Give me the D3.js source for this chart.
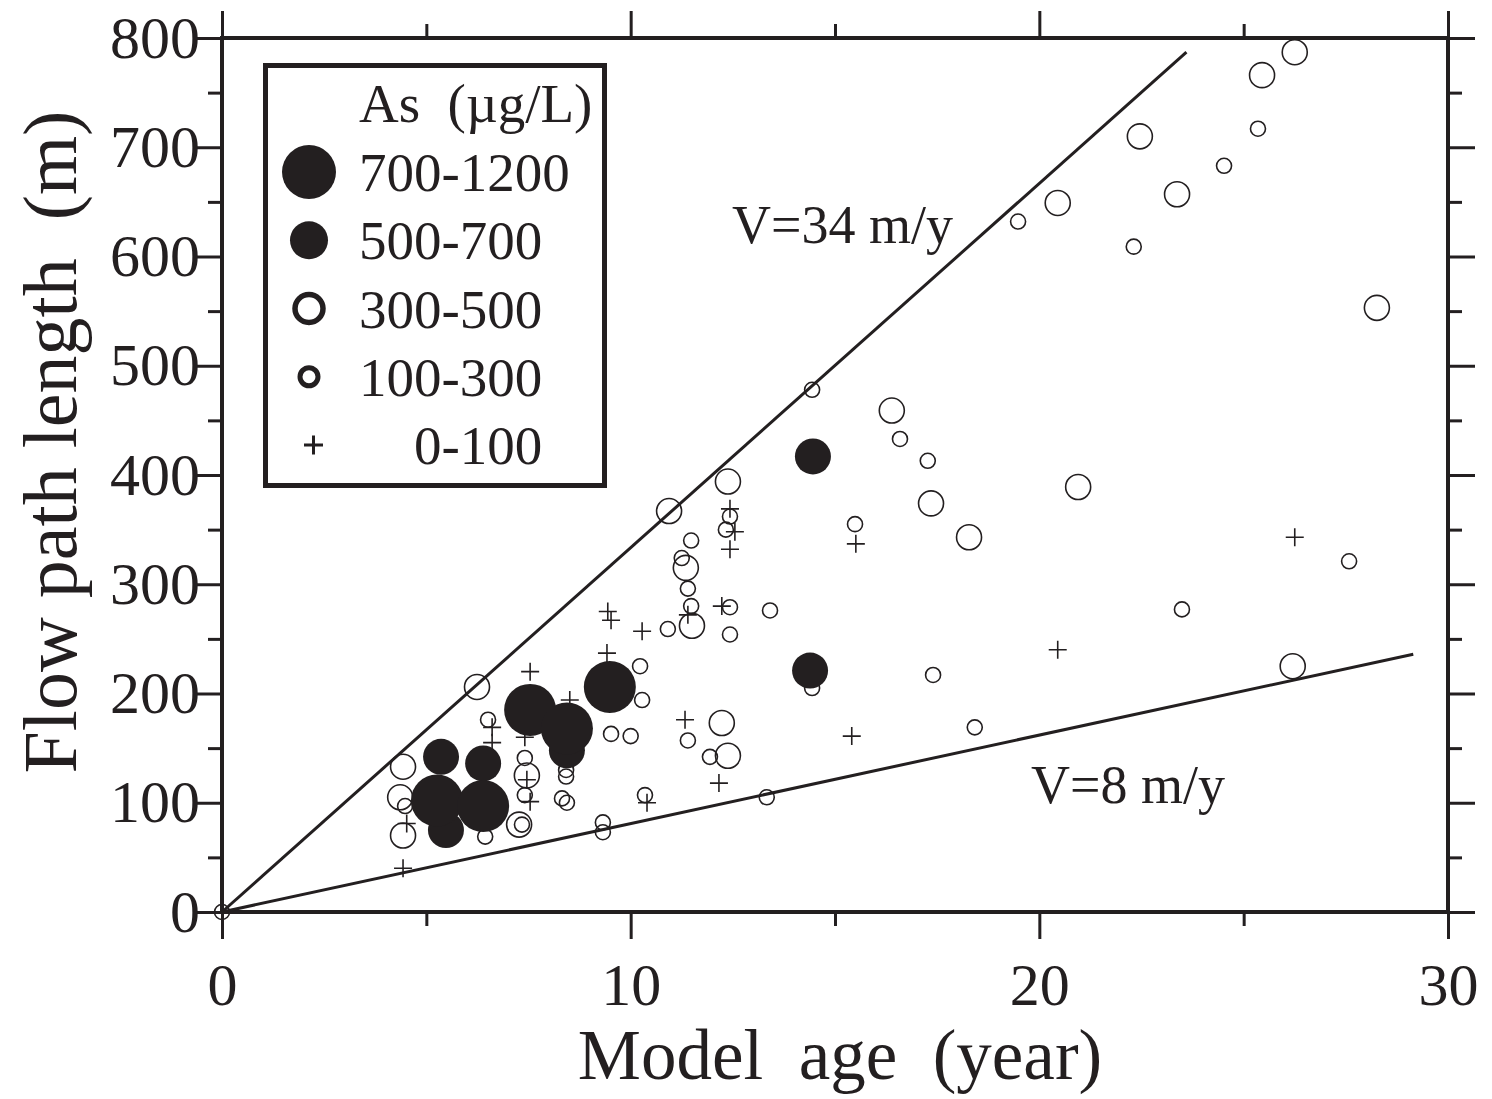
<!DOCTYPE html>
<html>
<head>
<meta charset="utf-8">
<script src="https://cdn.jsdelivr.net/npm/d3@7"></script>
<style>
  body { margin: 0; background: #fff; }
  svg text { font-family: "Liberation Serif", "Times New Roman", serif; fill: #231f20; }
</style>
</head>
<body>
<div class="chart"></div>
<script>
// As concentration classes, [model age (year), flow path length (m)]
const as700_1200 = [[5.26,102],[6.39,97],[7.54,185],[8.44,168],[9.49,206]];
const as500_700 = [[5.36,142],[6.39,136],[5.48,75],[8.44,148],[14.46,417],[14.39,221]];
const as300_500 = [
    [4.43,133],[4.36,105],[4.43,70],[6.24,206],[7.46,125],[7.27,80],[10.94,367],[11.35,315],
    [11.5,262],[12.38,394],[12.23,173],[12.38,143],[16.39,459],[17.35,374],[18.28,343],[20.95,389],
    [20.45,649],[22.46,710],[23.37,657],[25.45,766],[26.25,787],[28.26,553],[26.2,225]];
const as100_300 = [
    [0,0],[4.48,97],[6.44,69],[6.51,176],[7.41,141],[7.41,107],[7.34,80],[8.42,130],[8.42,124],
    [8.32,104],[8.44,100],[9.52,163],[10.0,161],[9.32,82],[9.32,73],[10.23,225],[10.28,194],
    [10.35,107],[11.48,340],[11.25,324],[11.4,296],[11.48,280],[10.91,259],[12.43,362],[12.33,350],
    [12.43,279],[12.43,254],[13.41,276],[11.4,157],[11.94,142],[13.33,105],[14.44,478],[16.59,433],
    [17.27,413],[15.49,355],[14.44,205],[17.4,217],[18.42,169],[19.48,632],[22.31,609],[24.52,683],
    [25.35,717],[23.49,277],[27.58,321]];
const as0_100 = [
    [4.52,81],[4.43,40],[6.61,169],[6.61,155],[7.41,160],[7.54,220],[8.51,194],[7.46,121],[7.54,101],
    [9.44,275],[9.52,267],[10.28,257],[9.42,237],[10.4,100],[11.4,272],[12.23,280],[12.43,369],
    [12.55,348],[12.43,332],[11.33,176],[12.16,118],[15.51,337],[15.41,161],[20.45,240],[26.25,343]];

// velocity lines: label, end age, end length
const velLabels = ['V=34 m/y', 'V=8 m/y'];
const velEndAge = [23.6, 29.15];
const velEndLen = [787, 236];

const legendLabels = ['700-1200', '500-700', '300-500', '100-300', '\u2007\u20070-100'];
const xMajor = [0, 10, 20, 30];
const xMinor = [5, 15, 25];
const yMajor = [0, 100, 200, 300, 400, 500, 600, 700, 800];
const yMinor = [50, 150, 250, 350, 450, 550, 650, 750];

const w = 1492, h = 1099;
const ink = '#231f20';

const svg = d3.select('.chart').append('svg')
    .attr('width', w).attr('height', h);

const x = d3.scaleLinear().domain([0, 30]).range([222, 1448]);
const y = d3.scaleLinear().domain([0, 800]).range([912, 38]);

//ticks on all four sides, pointing out
function ticks(axisFn, vals, size, transform) {
    const g = svg.append('g')
        .attr('transform', transform)
        .call(axisFn.tickValues(vals).tickSize(size).tickFormat(''));
    g.select('.domain').remove();
    g.selectAll('line').attr('stroke', ink).attr('stroke-width', 3);
}
ticks(d3.axisBottom(x), xMajor, 27, 'translate(0,912)');
ticks(d3.axisBottom(x), xMinor, 14, 'translate(0,912)');
ticks(d3.axisTop(x), xMajor, 27, 'translate(0,38)');
ticks(d3.axisTop(x), xMinor, 14, 'translate(0,38)');
ticks(d3.axisLeft(y), yMajor, 27, 'translate(222,0)');
ticks(d3.axisLeft(y), yMinor, 14, 'translate(222,0)');
ticks(d3.axisRight(y), yMajor, 27, 'translate(1448,0)');
ticks(d3.axisRight(y), yMinor, 14, 'translate(1448,0)');

svg.append('rect')
    .attr('x', x(0)).attr('y', y(800))
    .attr('width', x(30) - x(0)).attr('height', y(0) - y(800))
    .attr('fill', 'none').attr('stroke', ink).attr('stroke-width', 4);

// tick labels
const xl = svg.append('g').attr('transform', 'translate(0,912)')
    .call(d3.axisBottom(x).tickValues(xMajor).tickSize(0).tickPadding(50));
xl.select('.domain').remove();
xl.selectAll('text').attr('font-size', 60).attr('font-family', null).attr('fill', ink);

const yl = svg.append('g').attr('transform', 'translate(222,0)')
    .call(d3.axisLeft(y).tickValues(yMajor).tickSize(0).tickPadding(22));
yl.select('.domain').remove();
yl.selectAll('text').attr('font-size', 60).attr('font-family', null).attr('fill', ink);

// axis titles
svg.append('text')
    .attr('x', 840).attr('y', 1079)
    .attr('text-anchor', 'middle')
    .attr('font-size', 71)
    .style('white-space', 'pre')
    .text('Model  age  (year)');

svg.append('text')
    .attr('transform', 'translate(76,442) rotate(-90)')
    .attr('text-anchor', 'middle')
    .attr('font-size', 76)
    .style('white-space', 'pre')
    .text('Flow path length  (m)');

// velocity lines
const vel = velLabels.map((l, i) => ({label: l, age: velEndAge[i], len: velEndLen[i]}));
svg.selectAll('.vel')
    .data(vel)
    .enter().append('line')
    .attr('class', 'vel')
    .attr('x1', x(0)).attr('y1', y(0))
    .attr('x2', d => x(d.age)).attr('y2', d => y(d.len))
    .attr('stroke', ink).attr('stroke-width', 3);

svg.append('text').attr('x', 732).attr('y', 243).attr('font-size', 54).text(velLabels[0]);
svg.append('text').attr('x', 1031).attr('y', 803).attr('font-size', 54).text(velLabels[1]);

// points: plus first, then open, filled on top
const plot = svg.append('g');
plot.selectAll('.plus')
    .data(as0_100)
    .enter().append('path')
    .attr('class', 'plus')
    .attr('d', d => `M${x(d[0]) - 9},${y(d[1])}h18M${x(d[0])},${y(d[1]) - 9}v18`)
    .attr('stroke', ink).attr('stroke-width', 1.6).attr('fill', 'none');

plot.selectAll('.c1')
    .data(as100_300)
    .enter().append('circle')
    .attr('class', 'c1')
    .attr('cx', d => x(d[0])).attr('cy', d => y(d[1])).attr('r', 7.5)
    .attr('fill', 'none').attr('stroke', ink).attr('stroke-width', 1.6);

plot.selectAll('.c2')
    .data(as300_500)
    .enter().append('circle')
    .attr('class', 'c2')
    .attr('cx', d => x(d[0])).attr('cy', d => y(d[1])).attr('r', 12.5)
    .attr('fill', 'none').attr('stroke', ink).attr('stroke-width', 1.6);

plot.selectAll('.c3')
    .data(as500_700)
    .enter().append('circle')
    .attr('class', 'c3')
    .attr('cx', d => x(d[0])).attr('cy', d => y(d[1])).attr('r', 18)
    .attr('fill', ink);

plot.selectAll('.c4')
    .data(as700_1200)
    .enter().append('circle')
    .attr('class', 'c4')
    .attr('cx', d => x(d[0])).attr('cy', d => y(d[1])).attr('r', 26)
    .attr('fill', ink);

// legend
const lg = svg.append('g');
lg.append('rect')
    .attr('x', 265.5).attr('y', 65.5).attr('width', 339).attr('height', 420)
    .attr('fill', '#fff').attr('stroke', ink).attr('stroke-width', 5);
lg.append('text')
    .attr('x', 359).attr('y', 122).attr('font-size', 55)
    .style('white-space', 'pre')
    .text('As  (\u00b5g/L)');

const rowY = d3.scalePoint().domain(legendLabels).range([172, 445]);
lg.selectAll('.ltext')
    .data(legendLabels)
    .enter().append('text')
    .attr('class', 'ltext')
    .attr('x', 359).attr('y', d => rowY(d) + 19)
    .attr('font-size', 55)
    .style('white-space', 'pre')
    .text(d => d);

const sym = lg.selectAll('.lsym').data(legendLabels).enter().append('g')
    .attr('class', 'lsym')
    .attr('transform', d => `translate(309,${rowY(d)})`);
sym.filter((d, i) => i === 0).append('circle').attr('r', 27).attr('fill', ink);
sym.filter((d, i) => i === 1).append('circle').attr('r', 19).attr('fill', ink);
sym.filter((d, i) => i === 2).append('circle').attr('r', 14)
    .attr('fill', 'none').attr('stroke', ink).attr('stroke-width', 5.5);
sym.filter((d, i) => i === 3).append('circle').attr('r', 9)
    .attr('fill', 'none').attr('stroke', ink).attr('stroke-width', 5);
sym.filter((d, i) => i === 4).append('path')
    .attr('d', 'M-5,0h19M4.5,-9.5v19')
    .attr('stroke', ink).attr('stroke-width', 3);
</script>
</body>
</html>
